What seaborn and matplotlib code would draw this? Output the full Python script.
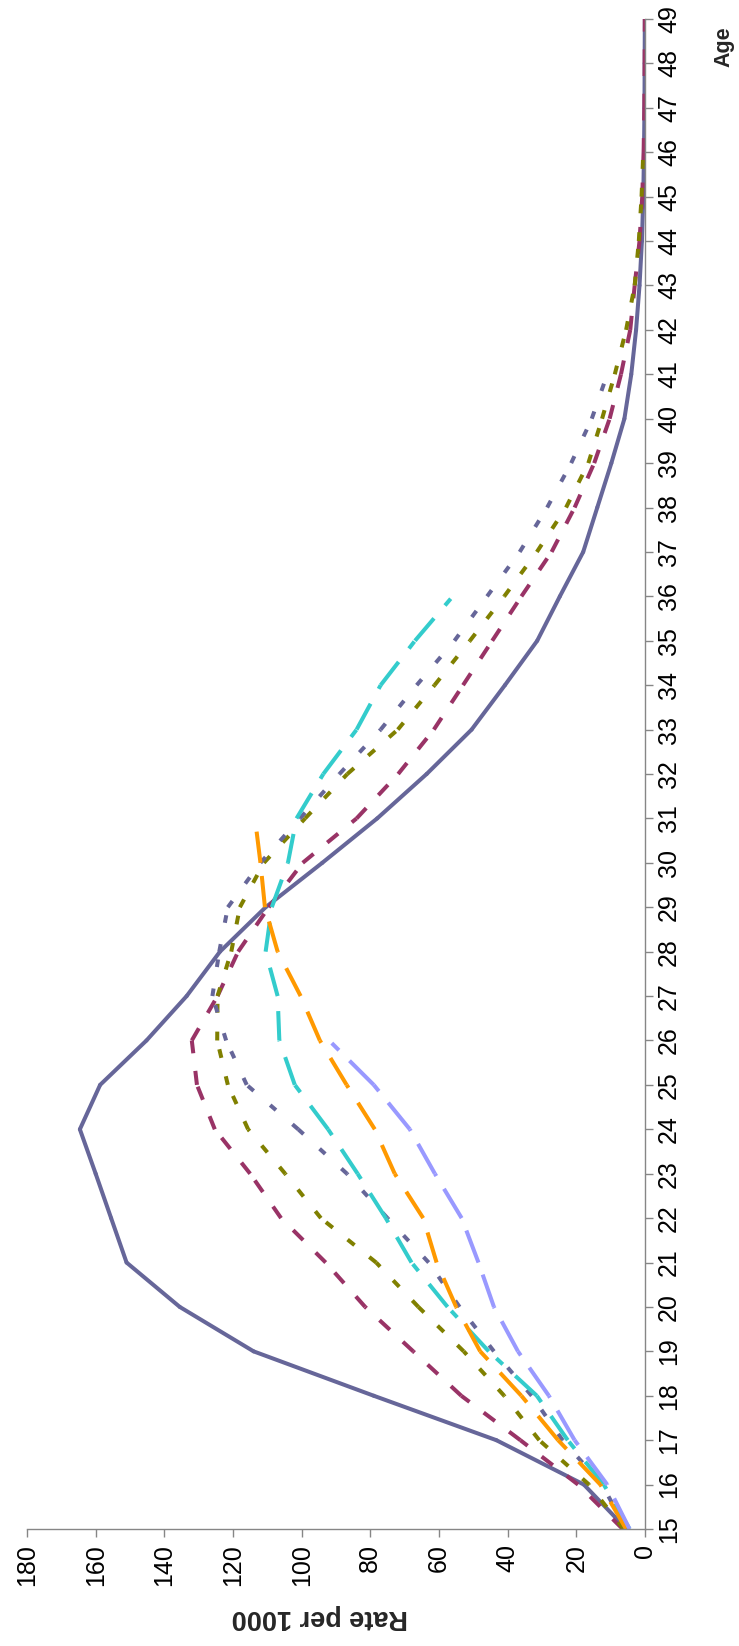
import matplotlib
matplotlib.use("Agg")
import matplotlib.pyplot as plt
import pandas as pd
import seaborn as sns

# ages on the category axis
AGES = list(range(15, 50))

# rate per 1000, one list per line, starting at age 15
RATE_S1 = [5.4, 17.8, 43.3, 79, 114, 135.5, 151, 155.5, 160, 164.6,
           158.7, 145.2, 133.5, 123.8, 110.5, 94, 78, 63.6, 50.5, 40.8,
           31.4, 24.8, 18, 13.9, 9.8, 6, 4, 2.6, 1.6, 0.9,
           0.5, 0.3, 0.15, 0.1, 0.05]
RATE_S2 = [6.5, 19.5, 36.3, 53.5, 67.5, 81.5, 93, 106, 115, 125.3,
           130.5, 132, 124.5, 118.5, 109.6, 99.7, 84, 71.9, 61.5, 53,
           44.5, 36, 27.2, 20.5, 14.8, 10.3, 7, 4.3, 3, 1.6,
           0.8, 0.4, 0.2, 0.1, 0.05]
RATE_S3 = [6.2, 16.3, 30.8, 41, 52.8, 66, 78.3, 94.4, 104.8, 115.6,
           121.5, 124.6, 124.5, 120.5, 118, 111, 99, 86.7, 72, 61.3,
           51, 41, 31.5, 23, 16.5, 12.5, 8.8, 5.5, 3, 1.8,
           1, 0.5]
RATE_S4 = [5.5, 12.5, 24, 33, 44, 54, 63, 75, 86.8, 101,
           116, 122, 126, 124, 121.5, 112, 100.5, 89, 77, 66.5,
           55.5, 46, 36.5, 28.5, 21.5, 15.5, 11]
RATE_S5 = [4.5, 12, 22.5, 31.5, 45.5, 57.5, 68, 75.5, 83.7, 92.3,
           102, 106.5, 107, 110.5, 108.7, 104, 101.5, 93.7, 84, 77,
           67, 56]
RATE_S6 = [5.5, 13, 25.3, 36, 48, 55, 60.7, 64.6, 72.9, 78.7,
           86.9, 94.7, 100.3, 107, 110.7, 112, 113.6]
RATE_S7 = [4.5, 11, 20.5, 28, 37, 44, 48.5, 53.4, 61.2, 68.5,
           79, 92]

SERIES = {"s1": RATE_S1, "s2": RATE_S2, "s3": RATE_S3, "s4": RATE_S4,
          "s5": RATE_S5, "s6": RATE_S6, "s7": RATE_S7}

RATE_TICKS = list(range(0, 181, 20))

COLORS = {"s1": "#666699", "s2": "#993366", "s3": "#808000", "s4": "#666699",
          "s5": "#33CCCC", "s6": "#FF9900", "s7": "#9999FF"}
# dash patterns in units of line width
DASHES = {"s1": "", "s2": (3.5, 4.4), "s3": (2.2, 4.7), "s4": (1.9, 5.4),
          "s5": (7.3, 4.2, 2.2, 4.2), "s6": (7.8, 4.4),
          "s7": (8.5, 3.7, 2.5, 3.7)}
LW = 2.9

# every one-year step is its own little line, so the dash pattern
# restarts at each point like the spreadsheet chart does
rows = []
for name, rates in SERIES.items():
    for i in range(len(rates) - 1):
        for j in (i, i + 1):
            rows.append({"series": name, "seg": i, "age": AGES[j], "rate": rates[j]})
df = pd.DataFrame(rows)

sns.set_style("white")
plt.rcParams["font.family"] = ["Liberation Sans", "DejaVu Sans"]

W, H = 739, 1646
fig = plt.figure(figsize=(W / 100, H / 100), dpi=100)
ax = fig.add_axes([27 / W, 1 - 1529 / H, 618 / W, 1510 / H])

sns.lineplot(data=df, x="rate", y="age", hue="series", style="series",
             units="seg", estimator=None, sort=False,
             hue_order=list(SERIES), style_order=list(SERIES),
             palette=COLORS, dashes=DASHES, linewidth=LW,
             solid_capstyle="round", legend=False, ax=ax)

ax.set_xlim(180, 0)
ax.set_ylim(15, 49)
ax.set_xticks(RATE_TICKS)
ax.set_yticks(AGES)
ax.yaxis.tick_right()
ax.yaxis.set_label_position("right")

axis_grey = "#868686"
for side in ["left", "top"]:
    ax.spines[side].set_visible(False)
for side in ["right", "bottom"]:
    ax.spines[side].set_color(axis_grey)
    ax.spines[side].set_linewidth(1.0)

ax.tick_params(axis="x", direction="out", length=5.8, width=1, color=axis_grey,
               labelrotation=90, pad=5, labelsize=18, labelcolor="black",
               bottom=True)
ax.tick_params(axis="y", direction="out", length=5.8, width=1, color=axis_grey,
               labelrotation=90, pad=3, labelsize=18, labelcolor="black",
               right=True, left=False)
for lab in ax.get_yticklabels():
    lab.set_va("center")

ax.set_xlabel("Rate per 1000", fontsize=19.5, fontweight="bold",
              rotation=180, va="center", ha="center")
ax.xaxis.set_label_coords(0.474, -0.058)
ax.set_ylabel("Age", fontsize=15.5, fontweight="bold",
              rotation=90, va="center", ha="center")
ax.yaxis.set_label_coords(1.128, 0.9815)

fig.savefig("out.png", dpi=100)
plt.close(fig)
